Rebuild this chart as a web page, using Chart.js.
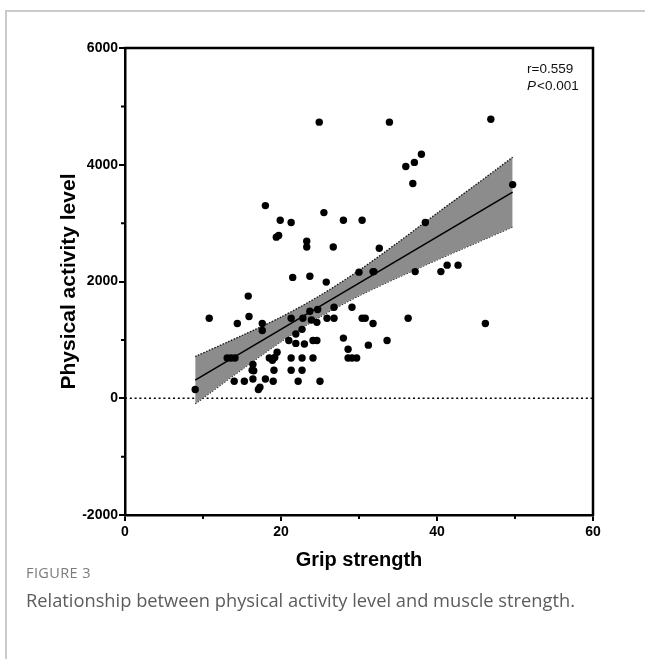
<!DOCTYPE html>
<html><head><meta charset="utf-8">
<script src="https://cdn.jsdelivr.net/npm/chart.js@4.4.1/dist/chart.umd.min.js"></script>
<style>
html,body{margin:0;padding:0;background:#fff;width:645px;height:659px;overflow:hidden;}
#frame{position:absolute;left:5px;top:10px;width:660px;height:700px;border-left:2px solid #cacaca;border-top:2px solid #cacaca;}
#wrap{position:absolute;left:0;top:0;width:645px;height:659px;}
#fig{position:absolute;left:26px;top:563px;font-family:"Open Sans";font-size:14.5px;color:#7b7b7b;letter-spacing:0.4px;line-height:20px;}
#cap{position:absolute;left:26px;top:588px;font-family:"Open Sans";font-size:18.3px;color:#5c5c5c;line-height:24px;}
</style></head>
<body>
<div id="frame"></div>
<div id="wrap"><canvas id="c" width="645" height="659"></canvas></div>
<div id="fig">FIGURE 3</div>
<div id="cap">Relationship between physical activity level and muscle strength.</div>
<script>
// Scatter data
const gripStrength = [
  9.0, 10.8, 13.1, 13.6, 14.1, 14.0, 14.4, 15.8, 15.9, 15.3,
  16.4, 16.3, 16.5, 16.4, 17.6, 17.6, 17.1, 17.3, 18.0, 18.0,
  19.0, 19.1, 18.5, 18.9, 19.2, 19.5, 19.4, 19.7, 19.9, 21.3,
  21.0, 21.3, 21.3, 21.3, 21.5, 21.9, 21.9, 22.2, 22.7, 23.0,
  22.7, 22.7, 22.8, 23.3, 23.3, 23.7, 23.7, 23.9, 24.1, 24.6,
  24.1, 24.7, 24.6, 24.9, 25.0, 25.5, 25.8, 25.9, 26.8, 26.8,
  26.7, 28.0, 28.0, 28.6, 28.6, 29.1, 29.7, 29.1, 30.4, 30.0,
  30.4, 30.8, 31.8, 31.2, 31.8, 31.9, 32.6, 33.6, 33.9, 36.3,
  36.0, 37.1, 38.0, 36.9, 37.2, 38.5, 40.5, 41.3, 42.7, 46.2,
  46.9, 49.7
];
const activityLevel = [
  150, 1370, 690, 690, 690, 290, 1280, 1750, 1400, 290,
  580, 480, 470, 330, 1280, 1160, 150, 190, 330, 3300,
  290, 480, 690, 650, 700, 790, 2760, 2790, 3050, 3010,
  990, 690, 480, 1370, 2070, 1100, 940, 290, 1180, 930,
  690, 480, 1370, 2690, 2590, 2090, 1490, 1340, 990, 990,
  690, 1520, 1300, 4730, 290, 3180, 1990, 1370, 1370, 1560,
  2590, 3050, 1030, 840, 690, 690, 690, 1560, 3050, 2160,
  1370, 1370, 1280, 910, 2170, 2170, 2570, 990, 4730, 1370,
  3970, 4040, 4180, 3680, 2170, 3010, 2170, 2280, 2280, 1280,
  4780, 3660
];
// Regression line end points
const fitX = [9, 49.7];
const fitY = [310, 3530];
// 95% confidence band edges
const bandX = [9, 15, 20, 25, 30, 35, 40, 45, 49.7];
const bandUpper = [715, 1075, 1390, 1760, 2190, 2670, 3170, 3660, 4130];
const bandLower = [-95, 495, 970, 1395, 1755, 2070, 2370, 2660, 2935];
// Zero reference line
const zeroX = [0, 60];
const zeroY = [0, 0];
// Axis ticks
const xMajorTicks = [0, 20, 40, 60];
const xMinorTicks = [10, 30, 50];
const yMajorTicks = [-2000, 0, 2000, 4000, 6000];
const yMinorTicks = [-1000, 1000, 3000, 5000];
const statLines = ['r=0.559', 'P', '<0.001'];

const toPts = (xs, ys) => xs.map((x, i) => ({x, y: ys[i]}));

const extras = {
  id: 'extras',
  afterDraw(chart) {
    const {ctx, chartArea: a, scales} = chart;
    ctx.save();
    ctx.strokeStyle = '#000';
    ctx.lineWidth = 2.5;
    ctx.beginPath();
    ctx.moveTo(a.left - 1, a.top);
    ctx.lineTo(a.right, a.top);
    ctx.lineTo(a.right, a.bottom + 1);
    ctx.stroke();
    ctx.lineWidth = 2;
    ctx.beginPath();
    yMinorTicks.forEach(v => {
      const py = scales.y.getPixelForValue(v);
      ctx.moveTo(a.left - 4, py); ctx.lineTo(a.left, py);
    });
    xMinorTicks.forEach(v => {
      const px = scales.x.getPixelForValue(v);
      ctx.moveTo(px, a.bottom); ctx.lineTo(px, a.bottom + 4);
    });
    ctx.stroke();
    ctx.fillStyle = '#111';
    ctx.textBaseline = 'alphabetic';
    ctx.font = '13.5px "Liberation Sans"';
    const tx = a.right - 66;
    ctx.fillText(statLines[0], tx, a.top + 25);
    ctx.font = 'italic 13.5px "Liberation Sans"';
    ctx.fillText(statLines[1], tx, a.top + 42);
    const w = ctx.measureText(statLines[1]).width;
    ctx.font = '13.5px "Liberation Sans"';
    ctx.fillText(statLines[2], tx + w + 1, a.top + 42);
    ctx.restore();
  }
};

const tickFont = {family: '"Liberation Sans"', size: 14, weight: 'bold'};

new Chart(document.getElementById('c'), {
  type: 'scatter',
  data: {
    datasets: [
      {type: 'scatter', data: toPts(gripStrength, activityLevel), backgroundColor: '#000', borderColor: '#000', pointRadius: 3.7, pointBorderWidth: 0, order: 0},
      {type: 'line', data: toPts(fitX, fitY), borderColor: '#000', borderWidth: 1.6, pointRadius: 0, fill: false, order: 1},
      {type: 'line', data: toPts(bandX, bandUpper), borderColor: '#111', borderWidth: 1.3, borderDash: [1.5, 1.5], pointRadius: 0, tension: 0.3, fill: '+1', backgroundColor: '#8c8c8c', order: 2},
      {type: 'line', data: toPts(bandX, bandLower), borderColor: '#111', borderWidth: 1.3, borderDash: [1.5, 1.5], pointRadius: 0, tension: 0.3, fill: false, order: 3},
      {type: 'line', data: toPts(zeroX, zeroY), borderColor: '#000', borderWidth: 1.6, borderDash: [2, 2.8], pointRadius: 0, fill: false, order: 4}
    ]
  },
  options: {
    responsive: false,
    animation: false,
    devicePixelRatio: 1,
    layout: {padding: {left: 0, right: 52, top: 48, bottom: 0}},
    plugins: {legend: {display: false}, tooltip: {enabled: false}},
    scales: {
      x: {
        type: 'linear', min: 0, max: 60,
        afterBuildTicks: s => { s.ticks = xMajorTicks.map(v => ({value: v})); },
        ticks: {font: tickFont, color: '#000', padding: 3, maxRotation: 0, autoSkip: false, callback: v => String(v)},
        grid: {drawOnChartArea: false, tickLength: 6, color: '#000', lineWidth: 2},
        border: {display: true, color: '#000', width: 2.5},
        title: {display: true, text: 'Grip strength', font: {family: '"Liberation Sans"', size: 20, weight: 'bold'}, color: '#000', padding: {top: 0, bottom: 87}},
        afterFit: s => { s.height = 144; }
      },
      y: {
        type: 'linear', min: -2000, max: 6000,
        afterBuildTicks: s => { s.ticks = yMajorTicks.map(v => ({value: v})); },
        ticks: {font: tickFont, color: '#000', padding: 1, autoSkip: false, callback: v => String(v)},
        grid: {drawOnChartArea: false, tickLength: 6, color: '#000', lineWidth: 2},
        border: {display: true, color: '#000', width: 2.5},
        title: {display: true, text: 'Physical activity level', font: {family: '"Liberation Sans"', size: 21, weight: 'bold'}, color: '#000', padding: {top: 57, bottom: 0}},
        afterFit: s => { s.width = 125; }
      }
    }
  },
  plugins: [extras]
});
</script>
</body></html>
